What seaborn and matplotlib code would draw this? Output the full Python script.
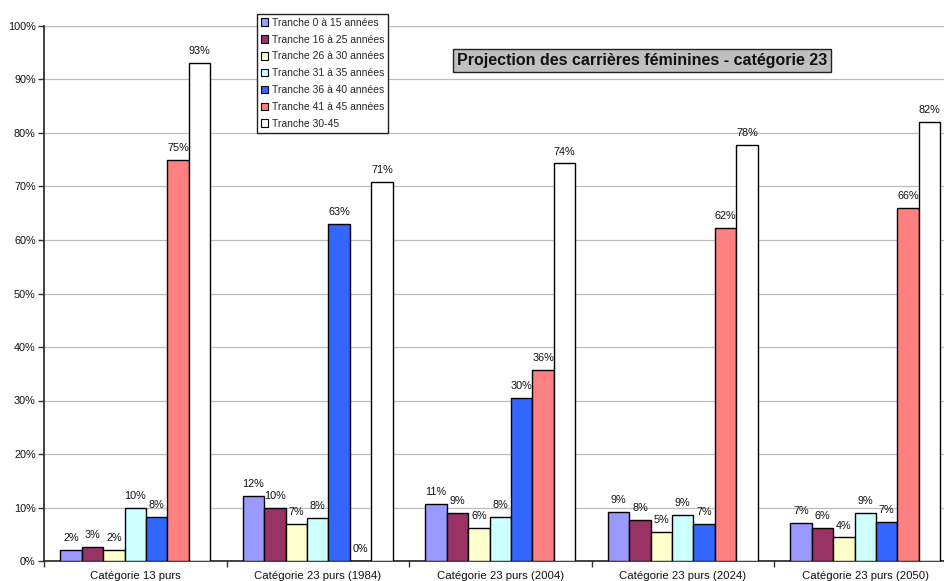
import matplotlib
matplotlib.use("Agg")
import matplotlib.pyplot as plt
from matplotlib.patches import Patch
import pandas as pd
import seaborn as sns

# Categories on the x axis
categories = [
    "Catégorie 13 purs",
    "Catégorie 23 purs (1984)",
    "Catégorie 23 purs (2004)",
    "Catégorie 23 purs (2024)",
    "Catégorie 23 purs (2050)",
]

# Series names (legend order)
series = [
    "Tranche 0 à 15 années",
    "Tranche 16 à 25 années",
    "Tranche 26 à 30 années",
    "Tranche 31 à 35 années",
    "Tranche 36 à 40 années",
    "Tranche 41 à 45 années",
    "Tranche 30-45",
]

# Share of careers per category, in percent
t_0_15 = [2.1, 12.1, 10.6, 9.1, 7.1]
t_16_25 = [2.6, 10.0, 8.9, 7.7, 6.2]
t_26_30 = [2.0, 6.9, 6.1, 5.4, 4.4]
t_31_35 = [9.9, 8.0, 8.3, 8.6, 9.0]
t_36_40 = [8.3, 63.0, 30.4, 6.9, 7.3]
t_41_45 = [75.0, 0.0, 35.7, 62.2, 65.9]
t_30_45 = [93.1, 70.9, 74.3, 77.7, 82.0]

colors = ["#9999FF", "#993366", "#FFFFCC", "#CCFFFF", "#3366FF", "#FF8080", "#FFFFFF"]

title = "Projection des carrières féminines - catégorie 23"
y_ticks = [0, 10, 20, 30, 40, 50, 60, 70, 80, 90, 100]

values = [t_0_15, t_16_25, t_26_30, t_31_35, t_36_40, t_41_45, t_30_45]
rows = []
for name, vals in zip(series, values):
    for cat, v in zip(categories, vals):
        rows.append({"categorie": cat, "tranche": name, "valeur": v})
df = pd.DataFrame(rows)

sns.set_theme(style="white")
plt.rcParams["font.family"] = ["Liberation Sans", "DejaVu Sans"]

W, H = 944, 581
fig = plt.figure(figsize=(W / 100, H / 100), dpi=100)
fig.patch.set_facecolor("white")

# Plot area in pixel coordinates (right edge runs past the figure)
x0, x1 = 44, 956.5
y0, y1 = 561, 26
ax = fig.add_axes([x0 / W, (H - y0) / H, (x1 - x0) / W, (y0 - y1) / H])

sns.barplot(
    data=df, x="categorie", y="valeur", hue="tranche",
    order=categories, hue_order=series, palette=colors,
    saturation=1, width=0.822, edgecolor="black", linewidth=1,
    legend=False, ax=ax, zorder=3,
)

for cont, vals in zip(ax.containers, values):
    ax.bar_label(cont, labels=[f"{v:.0f}%" for v in vals], padding=5,
                 fontsize=7.8, color="#111111")

ax.set_xlim(-0.5, len(categories) - 0.5)
ax.set_ylim(0, 100)
ax.set_yticks(y_ticks)
ax.set_yticklabels([f"{t}%" for t in y_ticks])
ax.set_xlabel("")
ax.set_ylabel("")

ax.grid(axis="y", color="#BDBDBD", linewidth=0.9, zorder=0)
ax.grid(axis="x", visible=False)
ax.set_axisbelow(True)

ax.set_xticks(range(len(categories)))
ax.set_xticklabels(categories)
ax.set_xticks([i - 0.5 for i in range(len(categories) + 1)], minor=True)
ax.tick_params(axis="x", which="major", length=0, pad=7, labelsize=8.2, colors="#111111")
ax.tick_params(axis="x", which="minor", length=4, width=1, color="#333333", direction="out", bottom=True)
ax.tick_params(axis="y", length=4, width=1, color="#333333", direction="out", left=True,
               pad=2, labelsize=7.8, labelcolor="#111111")

for s in ["right", "top"]:
    ax.spines[s].set_visible(False)
ax.spines["left"].set_color("#333333")
ax.spines["left"].set_linewidth(1.3)
ax.spines["bottom"].set_color("#222222")
ax.spines["bottom"].set_linewidth(1.2)

# Legend box
handles = [Patch(facecolor=c, edgecolor="black", linewidth=0.8) for c in colors]
leg = fig.legend(
    handles, series, loc="upper left",
    bbox_to_anchor=(257 / W, (H - 14) / H),
    fontsize=7.5, frameon=True, fancybox=False, framealpha=1,
    edgecolor="#222222", borderpad=0.35, labelspacing=0.66,
    handlelength=0.75, handleheight=0.75, handletextpad=0.3,
    borderaxespad=0,
)
leg.get_frame().set_linewidth(1.0)
leg.set_zorder(10)

# Title box
fig.text(642 / W, (H - 60.5) / H, title, ha="center", va="center",
         fontsize=11.5, fontweight="bold", color="#111111",
         bbox=dict(boxstyle="square,pad=0.22", facecolor="#C0C0C0",
                   edgecolor="#222222", linewidth=1))

fig.savefig("out.png", dpi=100)
